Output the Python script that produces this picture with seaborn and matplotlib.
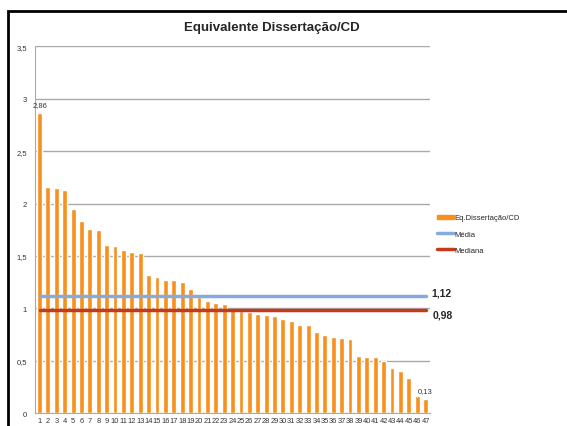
import numpy as np
import pandas as pd
import matplotlib.pyplot as plt
import matplotlib.patches as patches
import seaborn as sns

# Values
categories = [str(i) for i in range(1, 48)]
values = [2.86, 2.16, 2.15, 2.13, 1.95, 1.83, 1.76, 1.745, 1.60, 1.59,
          1.56, 1.54, 1.53, 1.32, 1.30, 1.27, 1.27, 1.25, 1.18, 1.11,
          1.07, 1.05, 1.04, 0.98, 0.975, 0.963, 0.95, 0.934, 0.925, 0.896,
          0.877, 0.845, 0.839, 0.772, 0.744, 0.724, 0.715, 0.702, 0.543, 0.534,
          0.534, 0.496, 0.43, 0.40, 0.334, 0.162, 0.133]
media = 1.12
mediana = 0.98
y_ticks = [0, 0.5, 1, 1.5, 2, 2.5, 3, 3.5]
y_tick_labels = ['0', '0,5', '1', '1,5', '2', '2,5', '3', '3,5']

df = pd.DataFrame({'cat': categories, 'val': values})

sns.set_style('white')
plt.rcParams['font.family'] = ['Liberation Sans', 'DejaVu Sans']

fig = plt.figure(figsize=(5.67, 4.27), dpi=100)
ax = fig.add_axes([0.0623, 0.0304, 0.6957, 0.8586])

# Frame around the whole chart (cropped at right and bottom)
frame = patches.Rectangle((8 / 567, -0.05), 1.1, 1 - 12 / 427 + 0.05,
                          transform=fig.transFigure, fill=False,
                          edgecolor='black', linewidth=2, clip_on=False)
fig.patches.append(frame)

sns.barplot(data=df, x='cat', y='val', color='#F7901E', width=0.58,
            saturation=1, ax=ax, zorder=3)

n = len(categories)
l1, = ax.plot([0, n - 1], [media, media], color='#86AADC', linewidth=2.5,
              zorder=4)
l2, = ax.plot([0, n - 1], [mediana, mediana], color='#C23B1C', linewidth=2.5,
              zorder=4)

ax.set_ylim(0, 3.5)
ax.set_xlim(-0.5, n - 0.5)
ax.set_yticks(y_ticks)
ax.set_yticklabels(y_tick_labels, fontsize=5.5, color='#333333')
ax.tick_params(axis='x', labelsize=5.4, pad=1, length=2, colors='#333333')
ax.tick_params(axis='y', pad=6, length=0)
ax.set_xlabel('')
ax.set_ylabel('')
ax.yaxis.grid(True, color='#AAAAAA', linewidth=1)
ax.set_axisbelow(True)
for s in ['top', 'right']:
    ax.spines[s].set_visible(False)
ax.spines['left'].set_color('#AAAAAA')
ax.spines['bottom'].set_color('#AAAAAA')

# Data labels on first and last bar
ax.text(0, values[0] + 0.05, '2,86', fontsize=5.5, ha='center', va='bottom',
        color='#333333')
ax.text(n - 1, values[-1] + 0.05, '0,13', fontsize=5.5, ha='center', va='bottom',
        color='#333333')

# Line value labels
ax.text(n - 0.3, media + 0.03, '1,12', fontsize=7.5, fontweight='bold',
        va='center')
ax.text(n - 0.2, mediana - 0.04, '0,98', fontsize=7.5, fontweight='bold',
        va='center')

fig.text(272 / 567, 1 - 28 / 427, 'Equivalente Dissertação/CD', fontsize=9.5,
         fontweight='bold', ha='center', va='center')

bar_handle = patches.Rectangle((0, 0), 1, 1, color='#F7901E')
ax.legend([bar_handle, l1, l2], ['Eq.Dissertação/CD', 'Média', 'Mediana'],
          loc='upper left', bbox_to_anchor=(1.01, 0.55), frameon=False,
          fontsize=5.5, handlelength=2.2, handleheight=0.5, handletextpad=0.1,
          labelspacing=1.2, borderaxespad=0)

fig.savefig('out.png', dpi=100)
